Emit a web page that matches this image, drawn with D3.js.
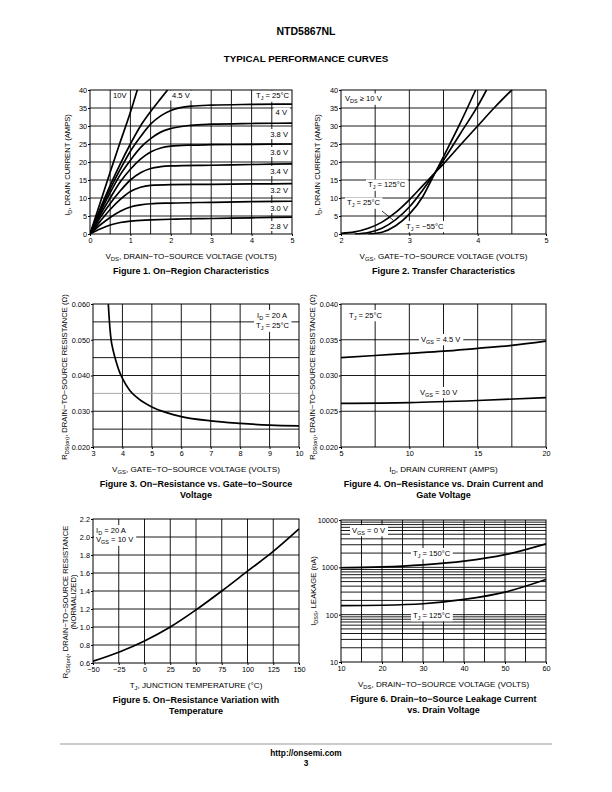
<!DOCTYPE html>
<html><head><meta charset="utf-8">
<script src="https://cdn.jsdelivr.net/npm/d3@7/dist/d3.min.js"></script>
<style>body{margin:0;background:#fff}</style>
</head><body>
<svg id="c" width="612" height="792" xmlns="http://www.w3.org/2000/svg"></svg>
<script>
// ---------------- DATA ----------------
// Figure 1: On-Region Characteristics (VDS, ID) per VGS
const fig1_10V  = [[0,0],[0.25,8.6],[0.5,17.2],[0.75,25.6],[1,33.8],[1.17,40]];
const fig1_4_5V = [[0,0],[0.25,7],[0.5,13.5],[0.75,19.5],[1,25],[1.25,30],[1.5,34],[1.75,37.6],[1.92,40]];
const fig1_4V   = [[0,0],[0.25,6.5],[0.5,12.5],[0.75,18],[1,23],[1.25,27],[1.5,30.5],[1.75,32.8],[2,34.3],[2.5,35.5],[3,35.8],[4,36],[5,36.1]];
const fig1_3_8V = [[0,0],[0.25,6],[0.5,11.5],[0.75,16.5],[1,20.5],[1.25,24],[1.5,26.5],[1.75,28.3],[2,29.3],[2.5,30.2],[3,30.5],[4,30.7],[5,30.8]];
const fig1_3_6V = [[0,0],[0.25,5.3],[0.5,10],[0.75,14.5],[1,18],[1.25,20.8],[1.5,22.8],[1.75,23.9],[2,24.4],[2.5,24.7],[3,24.8],[4,24.9],[5,25]];
const fig1_3_4V = [[0,0],[0.25,4.5],[0.5,8.5],[0.75,12],[1,15],[1.25,17],[1.5,18.2],[1.75,18.7],[2,18.9],[3,19.1],[4,19.3],[5,19.5]];
const fig1_3_2V = [[0,0],[0.25,3.5],[0.5,6.8],[0.75,9.6],[1,11.8],[1.25,13],[1.5,13.5],[2,13.7],[3,13.8],[4,13.9],[5,14]];
const fig1_3_0V = [[0,0],[0.25,2.5],[0.5,4.6],[0.75,6.3],[1,7.5],[1.25,8.1],[1.5,8.4],[2,8.6],[3,8.8],[4,9],[5,9.1]];
const fig1_2_8V = [[0,0],[0.25,1.4],[0.5,2.5],[0.75,3.2],[1,3.6],[1.5,3.9],[2,4.1],[3,4.3],[4,4.5],[5,4.7]];
const fig1Labels = ["10V","4.5 V","4 V","3.8 V","3.6 V","3.4 V","3.2 V","3.0 V","2.8 V"];

// Figure 2: Transfer Characteristics (VGS, ID) per TJ
const fig2_m55 = [[2.4,0],[2.6,0.5],[2.8,2.3],[3.0,5.5],[3.2,10.5],[3.35,16],[3.5,21.5],[3.75,31],[3.97,40]];
const fig2_25  = [[2.2,0],[2.4,0.4],[2.6,1.6],[2.8,4],[3.0,7.5],[3.2,12.3],[3.35,16.3],[3.5,20.5],[3.75,28],[4.0,35.5],[4.13,40]];
const fig2_125 = [[2.0,0.2],[2.2,0.6],[2.4,1.6],[2.6,3.3],[2.8,6],[3.0,9.5],[3.2,13.5],[3.35,16.5],[3.5,19.5],[3.75,24.8],[4.0,30],[4.25,35.2],[4.5,40]];

// Figure 3: RDS(on) vs VGS
const fig3_rds = [[3.52,0.060],[3.55,0.056],[3.6,0.051],[3.7,0.0465],[3.8,0.0435],[3.9,0.041],[4.0,0.0392],[4.25,0.0358],[4.5,0.0338],[5,0.0312],[5.5,0.0296],[6,0.0285],[7,0.0273],[8,0.0266],[9,0.0261],[10,0.0259]];

// Figure 4: RDS(on) vs ID
const fig4_vgs4_5 = [[5,0.0325],[7.5,0.0328],[10,0.0331],[12.5,0.0334],[15,0.0338],[17.5,0.0342],[20,0.0348]];
const fig4_vgs10  = [[5,0.0261],[10,0.0262],[15,0.0265],[20,0.0269]];

// Figure 5: normalized RDS(on) vs TJ
const fig5_rn = [[-50,0.62],[-25,0.72],[0,0.845],[25,1.0],[50,1.19],[75,1.40],[100,1.62],[125,1.84],[150,2.09]];

// Figure 6: IDSS vs VDS
const fig6_150 = [[10,980],[20,1020],[30,1130],[40,1350],[50,1850],[60,3150]];
const fig6_125 = [[10,155],[20,158],[30,170],[40,210],[50,300],[60,555]];

// tick labels
const fig1XTicks = [0,1,2,3,4,5];
const fig1YTicks = [0,5,10,15,20,25,30,35,40];
const fig2XTicks = [2,3,4,5];
const fig3XTicks = [3,4,5,6,7,8,9,10];
const fig3YTicks = [0.020,0.030,0.040,0.050,0.060];
const fig4XTicks = [5,10,15,20];
const fig4YTicks = [0.020,0.025,0.030,0.035,0.040];
const fig5XTicks = [-50,-25,0,25,50,75,100,125,150];
const fig5YTicks = [0.6,0.8,1.0,1.2,1.4,1.6,1.8,2.0,2.2];
const fig6XTicks = [10,20,30,40,50,60];
const fig6YTicks = [10,100,1000,10000];

// ---------------- DRAW ----------------
const FONT = '"Liberation Sans", Arial, Helvetica, sans-serif';
const TICK_FS = 7.3, NOTE_FS = 7.6, TITLE_FS = 8.1, YTITLE_FS = 7.6, CAP_FS = 9;
const svg = d3.select('#c').attr('font-family', FONT);
svg.append('rect').attr('width',612).attr('height',792).attr('fill','#fff');

function rich(t, s, fs){
  const segs=[]; const re=/_\{([^}]*)\}/g; let last=0, m;
  while((m=re.exec(s))){ if(m.index>last) segs.push({t:s.slice(last,m.index),sub:false}); segs.push({t:m[1],sub:true}); last=re.lastIndex; }
  if(last<s.length) segs.push({t:s.slice(last),sub:false});
  let prev=false; const off=fs*0.3;
  segs.forEach(sg=>{
    const sp=t.append('tspan').text(sg.t);
    if(sg.sub){ sp.attr('font-size',fs*0.72); if(!prev) sp.attr('dy',off); }
    else if(prev) sp.attr('dy',-off);
    prev=sg.sub;
  });
  return t;
}
function range(a,b,s){ const r=[]; for(let v=a; v<=b+1e-9; v+=s) r.push(+v.toFixed(6)); return r; }

let clipId=0;
function panel(o){
  const g = svg.append('g');
  const x = d3.scaleLinear().domain(o.xd).range([o.x0,o.x1]);
  const y = (o.log?d3.scaleLog():d3.scaleLinear()).domain(o.yd).range([o.y1,o.y0]);
  // grid
  const gg = g.append('g');
  gg.selectAll('line.gv').data(o.xgrid).join('line').attr('class','gv')
    .attr('x1',d=>x(d)).attr('x2',d=>x(d)).attr('y1',o.y0).attr('y2',o.y1)
    .attr('stroke','#000').attr('stroke-width',0.9);
  gg.selectAll('line.gh').data(o.ygrid).join('line').attr('class','gh')
    .attr('y1',d=>y(d)).attr('y2',d=>y(d)).attr('x1',o.x0).attr('x2',o.x1)
    .attr('stroke',d=>(o.greyY||[]).some(v=>Math.abs(v-d)<1e-9)?'#a0a0a0':'#000').attr('stroke-width',0.9);
  // axes (tick labels)
  const ax = d3.axisBottom(x).tickValues(o.xticks).tickSize(2).tickPadding(2).tickFormat(o.xfmt||(d=>d));
  g.append('g').attr('transform',`translate(0,${o.y1})`).call(ax)
    .attr('font-size',TICK_FS).attr('font-family',FONT)
    .call(s=>{s.select('.domain').remove(); s.selectAll('line').attr('stroke','#000');});
  const ay = d3.axisLeft(y).tickValues(o.yticks).tickSize(2).tickPadding(1).tickFormat(o.yfmt||(d=>d));
  g.append('g').attr('transform',`translate(${o.x0},0)`).call(ay)
    .attr('font-size',TICK_FS).attr('font-family',FONT)
    .call(s=>{s.select('.domain').remove(); s.selectAll('line').attr('stroke','#000'); s.selectAll('text').attr('dy','0.34em');});
  // label texts
  const annG = g.append('g');
  (o.notes||[]).forEach(n=>{
    const t = annG.append('text').attr('x',n.x).attr('y',n.y).attr('font-size',NOTE_FS)
      .attr('text-anchor',n.anchor||'start');
    rich(t,n.s,NOTE_FS);
  });
  // white boxes behind labels
  const boxG = g.insert('g', ()=>annG.node());
  annG.selectAll('text').each(function(){
    const b=this.getBBox();
    boxG.append('rect').attr('x',b.x-2).attr('y',b.y-0.5).attr('width',b.width+4).attr('height',b.height+1).attr('fill','#fff');
  });
  // curves
  const cid='clip'+(clipId++);
  g.append('clipPath').attr('id',cid).append('rect').attr('x',o.x0).attr('y',o.y0-0.5).attr('width',o.x1-o.x0).attr('height',o.y1-o.y0+1);
  const line = d3.line().x(d=>x(d[0])).y(d=>y(d[1])).curve(d3.curveMonotoneX);
  const cg = g.insert('g', ()=>annG.node()).attr('clip-path',`url(#${cid})`);
  o.series.forEach(s=>{
    cg.append('path').attr('d',line(s)).attr('fill','none').attr('stroke','#000').attr('stroke-width',1.7).attr('stroke-linejoin','round');
  });
  (o.leaders||[]).forEach(l=>{
    g.append('line').attr('x1',l[0]).attr('y1',l[1]).attr('x2',l[2]).attr('y2',l[3]).attr('stroke','#000').attr('stroke-width',0.8);
  });
  // frame
  g.append('rect').attr('x',o.x0).attr('y',o.y0).attr('width',o.x1-o.x0).attr('height',o.y1-o.y0)
    .attr('fill','none').attr('stroke','#000').attr('stroke-width',1);
  // axis titles
  const cx=(o.x0+o.x1)/2;
  rich(g.append('text').attr('x',cx).attr('y',o.y1+24.5).attr('text-anchor','middle').attr('font-size',TITLE_FS),o.xtitle,TITLE_FS);
  const cy=o.ycenter||(o.y0+o.y1)/2;
  o.ytitles.forEach(yt=>{
    rich(g.append('text').attr('transform',`translate(${yt.x},${cy}) rotate(-90)`).attr('text-anchor','middle').attr('font-size',YTITLE_FS),yt.s,YTITLE_FS);
  });
  o.caption.forEach((c,i)=>{
    g.append('text').attr('x',cx).attr('y',o.y1+40+i*11).attr('text-anchor','middle')
      .attr('font-size',CAP_FS).attr('font-weight','bold').text(c);
  });
}

// Header
svg.append('text').attr('x',306).attr('y',34.5).attr('text-anchor','middle').attr('font-size',10.5).attr('font-weight','bold').text('NTD5867NL');
svg.append('text').attr('x',306).attr('y',61.5).attr('text-anchor','middle').attr('font-size',9.8).attr('font-weight','bold').text('TYPICAL PERFORMANCE CURVES');

const vdsTitle='V_{DS}, DRAIN\u2212TO\u2212SOURCE VOLTAGE (VOLTS)';
const vgsTitle='V_{GS}, GATE\u2212TO\u2212SOURCE VOLTAGE (VOLTS)';

// Figure 1
panel({x0:90,x1:292,y0:90,y1:234,xd:[0,5],yd:[0,40],
  xgrid:range(0.5,4.5,0.5),ygrid:range(5,35,5),xticks:fig1XTicks,yticks:fig1YTicks,
  series:[fig1_10V,fig1_4_5V,fig1_4V,fig1_3_8V,fig1_3_6V,fig1_3_4V,fig1_3_2V,fig1_3_0V,fig1_2_8V],
  notes:[
    {x:113,y:98,s:fig1Labels[0]},{x:172,y:98,s:fig1Labels[1]},
    {x:289,y:98,s:'T_{J} = 25\u00B0C',anchor:'end'},
    {x:287,y:115,s:fig1Labels[2],anchor:'end'},
    {x:288,y:136.5,s:fig1Labels[3],anchor:'end'},
    {x:288,y:154.5,s:fig1Labels[4],anchor:'end'},
    {x:288,y:173.5,s:fig1Labels[5],anchor:'end'},
    {x:288,y:192.5,s:fig1Labels[6],anchor:'end'},
    {x:288,y:210.5,s:fig1Labels[7],anchor:'end'},
    {x:288,y:228.5,s:fig1Labels[8],anchor:'end'}],
  xtitle:vdsTitle,ycenter:165,ytitles:[{x:70,s:'I_{D}, DRAIN CURRENT (AMPS)'}],
  caption:['Figure 1. On\u2212Region Characteristics']});

// Figure 2
panel({x0:341,x1:546,y0:90,y1:234,xd:[2,5],yd:[0,40],
  xgrid:range(2.5,4.5,0.5),ygrid:range(5,35,5),xticks:fig2XTicks,yticks:fig1YTicks,
  series:[fig2_m55,fig2_25,fig2_125],
  notes:[
    {x:345,y:101,s:'V_{DS} \u2265 10 V'},
    {x:368,y:187,s:'T_{J} = 125\u00B0C'},
    {x:347,y:205,s:'T_{J} = 25\u00B0C'},
    {x:406,y:228.5,s:'T_{J} = \u221255\u00B0C'}],
  leaders:[[382,211,393,220]],
  xtitle:vgsTitle,ycenter:165,ytitles:[{x:320,s:'I_{D}, DRAIN CURRENT (AMPS)'}],
  caption:['Figure 2. Transfer Characteristics']});

// Figure 3
panel({x0:93,x1:299,y0:304,y1:447,xd:[3,10],yd:[0.02,0.06],
  xgrid:range(4,9,1),ygrid:range(0.025,0.055,0.005),greyY:[0.035],xticks:fig3XTicks,yticks:fig3YTicks,
  yfmt:d3.format('.3f'),
  series:[fig3_rds],
  notes:[{x:287,y:317.5,s:'I_{D} = 20 A',anchor:'end'},{x:289,y:328,s:'T_{J} = 25\u00B0C',anchor:'end'}],
  xtitle:vgsTitle,ycenter:377,ytitles:[{x:67,s:'R_{DS(on)}, DRAIN\u2212TO\u2212SOURCE RESISTANCE (\u03A9)'}],
  caption:['Figure 3. On\u2212Resistance vs. Gate\u2212to\u2212Source','Voltage']});

// Figure 4
panel({x0:341,x1:546,y0:304,y1:447,xd:[5,20],yd:[0.02,0.04],
  xgrid:range(7.5,17.5,2.5),ygrid:range(0.025,0.035,0.005),xticks:fig4XTicks,yticks:fig4YTicks,
  yfmt:d3.format('.3f'),
  series:[fig4_vgs4_5,fig4_vgs10],
  notes:[{x:349,y:317.5,s:'T_{J} = 25\u00B0C'},{x:421,y:341.5,s:'V_{GS} = 4.5 V'},{x:420,y:394.5,s:'V_{GS} = 10 V'}],
  xtitle:'I_{D}, DRAIN CURRENT (AMPS)',ycenter:377,ytitles:[{x:315,s:'R_{DS(on)}, DRAIN\u2212TO\u2212SOURCE RESISTANCE (\u03A9)'}],
  caption:['Figure 4. On\u2212Resistance vs. Drain Current and','Gate Voltage']});

// Figure 5
panel({x0:93,x1:299,y0:519,y1:663,xd:[-50,150],yd:[0.6,2.2],
  xgrid:range(-25,125,25),ygrid:range(0.8,2.0,0.2),xticks:fig5XTicks,yticks:fig5YTicks,
  xfmt:d=>d<0?'\u2212'+Math.abs(d):d, yfmt:d3.format('.1f'),
  series:[fig5_rn],
  notes:[{x:96,y:532.5,s:'I_{D} = 20 A'},{x:96,y:542,s:'V_{GS} = 10 V'}],
  xtitle:'T_{J}, JUNCTION TEMPERATURE (\u00B0C)',ycenter:602,
  ytitles:[{x:68,s:'R_{DS(on)}, DRAIN\u2212TO\u2212SOURCE RESISTANCE'},{x:76,s:'(NORMALIZED)'}],
  caption:['Figure 5. On\u2212Resistance Variation with','Temperature']});

// Figure 6
const fig6Minor=[]; [10,100,1000].forEach(dd=>{ for(let k=2;k<=9;k++) fig6Minor.push(dd*k); }); fig6Minor.push(100,1000);
panel({x0:341,x1:546,y0:520,y1:662,xd:[10,60],yd:[10,10000],log:true,
  xgrid:range(15,55,5),ygrid:fig6Minor,xticks:fig6XTicks,yticks:fig6YTicks,
  yfmt:d=>String(d),
  series:[fig6_150,fig6_125],
  notes:[{x:352,y:532.5,s:'V_{GS} = 0 V'},{x:413,y:555.5,s:'T_{J} = 150\u00B0C'},{x:413,y:617.5,s:'T_{J} = 125\u00B0C'}],
  xtitle:vdsTitle,ytitles:[{x:316,s:'I_{DSS}, LEAKAGE (nA)'}],
  caption:['Figure 6. Drain\u2212to\u2212Source Leakage Current','vs. Drain Voltage']});

// Footer
svg.append('line').attr('x1',60).attr('x2',552).attr('y1',744).attr('y2',744).attr('stroke','#999').attr('stroke-width',1.2);
svg.append('text').attr('x',306).attr('y',756).attr('text-anchor','middle').attr('font-size',8.3).attr('font-weight','bold').text('http://onsemi.com');
svg.append('text').attr('x',306).attr('y',766).attr('text-anchor','middle').attr('font-size',8.3).attr('font-weight','bold').text('3');
</script>
</body></html>
